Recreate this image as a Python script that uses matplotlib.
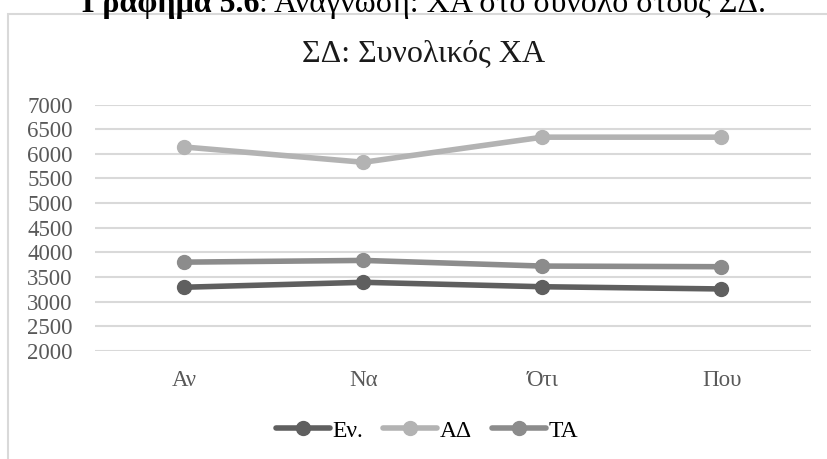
import matplotlib.pyplot as plt
from matplotlib.patches import Rectangle

plt.rcParams['font.family'] = ['Liberation Serif', 'DejaVu Serif']

# Data
categories = ["Αν", "Να", "Ότι", "Που"]
en_values = [3290, 3390, 3300, 3255]
ad_values = [6140, 5830, 6340, 6340]
ta_values = [3800, 3835, 3720, 3707]
series_names = ["Εν.", "ΑΔ", "ΤΑ"]
y_ticks = list(range(2000, 7001, 500))

colors = ["#5f5f5f", "#b3b3b3", "#8c8c8c"]

fig = plt.figure(figsize=(8.28, 4.59), dpi=100)
W, H = 828, 459

# Chart frame (cut off at right and bottom like the reference)
fig.patches.append(Rectangle((8 / W, -0.1), 1.0, 1 - 14.5 / H + 0.1,
                             transform=fig.transFigure, fill=False,
                             edgecolor="#d9d9d9", linewidth=1.5))

# Caption partially cut at top: bold label + normal text, centred together
cap_y = 1 - 12 / H
bold = fig.text(0, cap_y, "Γράφημα 5.6", ha="left", va="baseline",
                fontsize=23, fontweight="bold", color="black")
rest = fig.text(0, cap_y, ": Ανάγνωση: ΧΑ στο σύνολο στους ΣΔ.", ha="left",
                va="baseline", fontsize=23, color="black")
fig.canvas.draw()
r = fig.canvas.get_renderer()
wb = bold.get_window_extent(r).width
wr = rest.get_window_extent(r).width
x0 = 424 - (wb + wr) / 2
bold.set_x(x0 / W)
rest.set_x((x0 + wb) / W)

ax = fig.add_axes([95 / W, 1 - 350.7 / H, 716 / W, 246 / H])
x = range(len(categories))
for vals, name, c in zip([en_values, ad_values, ta_values], series_names, colors):
    ax.plot(x, vals, color=c, linewidth=4.0, marker="o", markersize=10,
            label=name, solid_capstyle="round")

ax.set_xlim(-0.5, len(categories) - 0.5)
ax.set_ylim(2000, 7000)
ax.set_yticks(y_ticks)
ax.set_xticks(list(x))
ax.set_xticklabels(categories)
ax.tick_params(axis="y", length=0, pad=16, labelsize=16.5, labelcolor="#595959")
ax.tick_params(axis="x", length=0, pad=14, labelsize=16.5, labelcolor="#595959")
ax.grid(axis="y", color="#d9d9d9", linewidth=1.5)
ax.set_axisbelow(True)
for s in ax.spines.values():
    s.set_visible(False)

fig.text(424 / W, 1 - 54 / H, "ΣΔ: Συνολικός ΧΑ", ha="center", va="center",
         fontsize=23, color="#1a1a1a")

fig.legend(loc="center", bbox_to_anchor=(427 / W, 1 - 431 / H), ncol=3,
           frameon=False, fontsize=17, handlelength=2.3, handletextpad=0.1,
           columnspacing=0.85)

plt.savefig("out.png", dpi=100)
